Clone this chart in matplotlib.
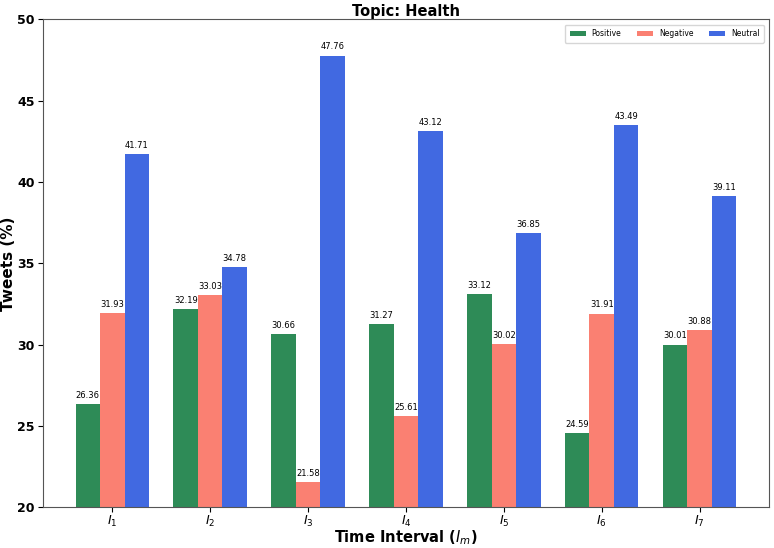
import matplotlib.pyplot as plt
import numpy as np

intervals = ['$I_1$', '$I_2$', '$I_3$', '$I_4$', '$I_5$', '$I_6$', '$I_7$']
positive = [26.36, 32.19, 30.66, 31.27, 33.12, 24.59, 30.01]
negative = [31.93, 33.03, 21.58, 25.61, 30.02, 31.91, 30.88]
neutral = [41.71, 34.78, 47.76, 43.12, 36.85, 43.49, 39.11]

fig, ax = plt.subplots(figsize=(7.74, 5.48), dpi=100)
fig.subplots_adjust(left=0.055, right=0.994, bottom=0.074, top=0.965)

x = np.arange(len(intervals))
w = 0.25
b1 = ax.bar(x - w, positive, w, color='seagreen', label='Positive')
b2 = ax.bar(x, negative, w, color='salmon', label='Negative')
b3 = ax.bar(x + w, neutral, w, color='royalblue', label='Neutral')
for bars in (b1, b2, b3):
    ax.bar_label(bars, fmt='%.2f', padding=3, fontsize=6)

ax.set_ylim(20, 50)
ax.set_xticks(x)
ax.set_xticklabels(intervals, fontsize=9)
ax.tick_params(axis='y', labelsize=9, pad=2)
ax.tick_params(axis='x', pad=1.5)
for t in ax.get_yticklabels():
    t.set_fontweight('bold')
ax.set_xlabel('Time Interval ($I_m$)', fontsize=10.5, fontweight='bold', labelpad=-1)
ax.set_ylabel('Tweets (%)', fontsize=11, fontweight='bold', labelpad=1)
ax.set_title('Topic: Health', fontsize=10.5, fontweight='bold', pad=2)
for s in ax.spines.values():
    s.set_color('#555555')
ax.legend(loc='upper right', ncol=3, fontsize=5.5, borderaxespad=0.7,
          handlelength=2.1, borderpad=0.6, columnspacing=2.0)

plt.savefig('out.png')
